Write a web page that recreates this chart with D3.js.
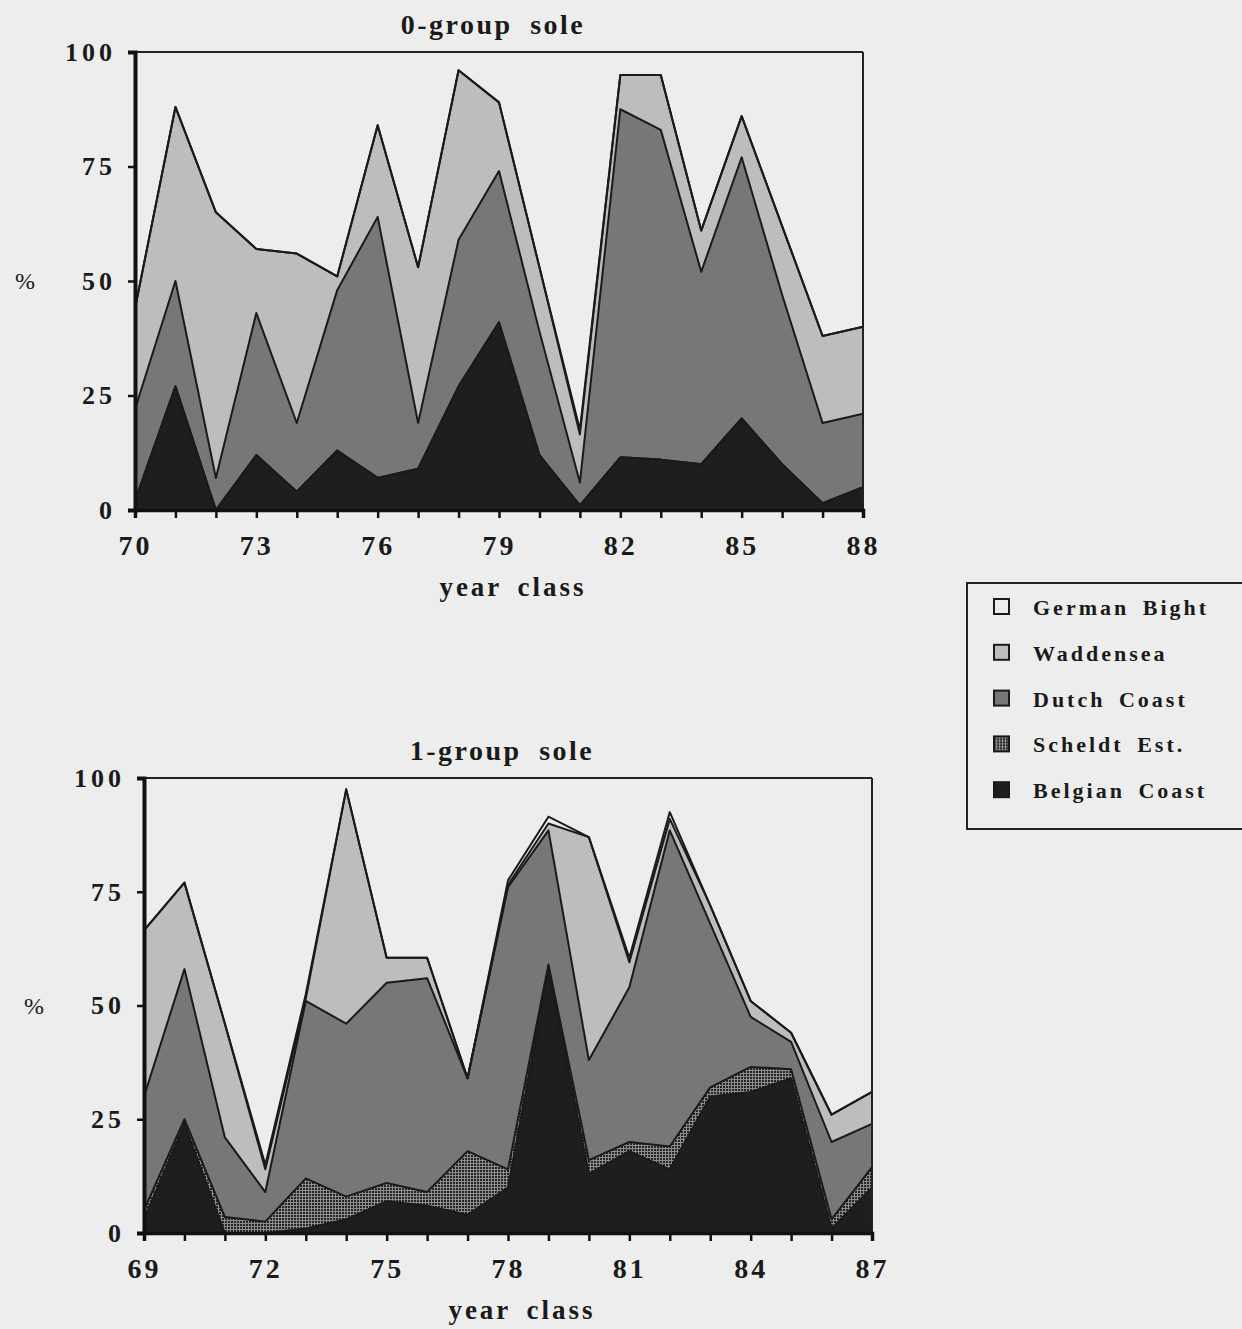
<!DOCTYPE html>
<html>
<head>
<meta charset="utf-8">
<script src="https://cdn.jsdelivr.net/npm/d3@7"></script>
<style>
  body { margin: 0; background: #ededed; }
  svg { display: block; }
  text { font-family: "Liberation Serif", "DejaVu Serif", serif; fill: #1a1a1a; }
</style>
</head>
<body>
<div id="chart"></div>
<script>
// region keys, bottom of the stack first
const keys = ['Belgian Coast', 'Scheldt Est.', 'Dutch Coast', 'Waddensea', 'German Bight'];
const legendOrder = ['German Bight', 'Waddensea', 'Dutch Coast', 'Scheldt Est.', 'Belgian Coast'];

// 0-group sole, % per region
const topYears   = [70, 71, 72, 73, 74, 75, 76, 77, 78, 79, 80, 81, 82, 83, 84, 85, 86, 87, 88];
const topBelgian = [2, 27, 0, 12, 4, 13, 7, 9, 27, 41, 12, 1, 11.5, 11, 10, 20, 10, 1.5, 5];
const topScheldt = [0, 0, 0, 0, 0, 0, 0, 0, 0, 0, 0, 0, 0, 0, 0, 0, 0, 0, 0];
const topDutch   = [20, 23, 7, 31, 15, 35, 57, 10, 32, 33, 27, 5, 76, 72, 42, 57, 37, 17.5, 16];
const topWadden  = [22, 38, 58, 14, 37, 3, 20, 34, 37, 15, 14, 10.5, 7.5, 12, 9, 9, 15, 19, 19];
const topGerman  = [0, 0, 0, 0, 0, 0, 0, 0, 0, 0, 0, 1, 0, 0, 0, 0, 0, 0, 0];
const topTicks   = [70, 73, 76, 79, 82, 85, 88];

// 1-group sole, % per region
const botYears   = [69, 70, 71, 72, 73, 74, 75, 76, 77, 78, 79, 80, 81, 82, 83, 84, 85, 86, 87];
const botBelgian = [3, 24, 0, 0, 1, 3, 7, 6, 4, 10, 58, 13, 18, 14, 30, 31, 34, 1, 10];
const botScheldt = [2, 1, 3.5, 2.5, 11, 5, 4, 3, 14, 4, 1, 3, 2, 5, 2, 5.5, 2, 2, 4.5];
const botDutch   = [25, 33, 17.5, 6.5, 39, 38, 44, 47, 16, 62, 29.5, 22, 34, 69.5, 36, 11, 6, 17, 9.5];
const botWadden  = [36.5, 19, 25, 5, 0.5, 51.5, 5.5, 4.5, 0, 0.5, 1.5, 49, 5.5, 2.5, 4, 3.5, 2, 6, 7];
const botGerman  = [0, 0, 0, 1, 1, 0, 0, 0, 0, 1, 1.5, 0, 1, 1.5, 0, 0, 0, 0, 0];
const botTicks   = [69, 72, 75, 78, 81, 84, 87];

const yTicks = [0, 25, 50, 75, 100];

const svg = d3.select('#chart').append('svg')
    .attr('width', 1242)
    .attr('height', 1329);

// dotted fill for the Scheldt
const defs = svg.append('defs');
const pat = defs.append('pattern')
    .attr('id', 'dots')
    .attr('width', 3).attr('height', 3)
    .attr('patternUnits', 'userSpaceOnUse');
pat.append('rect').attr('width', 3).attr('height', 3).attr('fill', '#8c8c8c');
pat.append('rect').attr('width', 2).attr('height', 2).attr('fill', '#262626');

const fills = {
    'Belgian Coast': '#1e1e1e',
    'Scheldt Est.': 'url(#dots)',
    'Dutch Coast': '#777777',
    'Waddensea': '#bdbdbd',
    'German Bight': '#ededed'
};

function rows(years, b, s, d, w, g) {
    return years.map((yr, i) => ({
        year: yr,
        'Belgian Coast': b[i],
        'Scheldt Est.': s[i],
        'Dutch Coast': d[i],
        'Waddensea': w[i],
        'German Bight': g[i]
    }));
}

function drawChart(opt) {
    const x = d3.scaleLinear().domain(d3.extent(opt.data, d => d.year)).range([opt.left, opt.right]);
    const y = d3.scaleLinear().domain([0, 100]).range([opt.bottom, opt.top]);

    const series = d3.stack().keys(keys)(opt.data);

    const area = d3.area()
        .x(d => x(d.data.year))
        .y0(d => y(d[0]))
        .y1(d => y(d[1]));

    const edge = d3.line()
        .x(d => x(d.data.year))
        .y(d => y(d[1]));

    const g = svg.append('g');

    g.selectAll('.area')
        .data(series)
        .enter().append('path')
        .attr('class', 'area')
        .attr('fill', d => fills[d.key])
        .attr('d', area);

    g.selectAll('.edge')
        .data(series)
        .enter().append('path')
        .attr('class', 'edge')
        .attr('fill', 'none')
        .attr('stroke', '#1a1a1a')
        .attr('stroke-width', 2)
        .attr('stroke-linejoin', 'round')
        .attr('d', edge);

    // frame: thin top and right, heavy left and bottom
    g.append('line')
        .attr('x1', opt.left).attr('x2', opt.right)
        .attr('y1', opt.top).attr('y2', opt.top)
        .attr('stroke', '#222').attr('stroke-width', 2);
    g.append('line')
        .attr('x1', opt.right).attr('x2', opt.right)
        .attr('y1', opt.top).attr('y2', opt.bottom)
        .attr('stroke', '#222').attr('stroke-width', 2);

    const xAxis = d3.axisBottom(x)
        .tickValues(opt.data.map(d => d.year))
        .tickSize(8)
        .tickPadding(17)
        .tickFormat(v => opt.ticks.includes(v) ? v : '');

    const xg = g.append('g')
        .attr('transform', 'translate(0,' + opt.bottom + ')')
        .call(xAxis);
    xg.select('.domain').attr('stroke', '#111').attr('stroke-width', 3.5);
    xg.selectAll('.tick line').attr('stroke', '#111').attr('stroke-width', 2.5);
    xg.selectAll('.tick text')
        .attr('fill', '#1a1a1a')
        .style('font-family', '"Liberation Serif", serif')
        .style('font-size', '28px')
        .style('font-weight', 'bold')
        .style('letter-spacing', '3px');

    const yAxis = d3.axisLeft(y)
        .tickValues(yTicks)
        .tickSize(7)
        .tickPadding(12);

    const yg = g.append('g')
        .attr('transform', 'translate(' + opt.left + ',0)')
        .call(yAxis);
    yg.select('.domain').attr('stroke', '#111').attr('stroke-width', 4);
    yg.selectAll('.tick line').attr('stroke', '#111').attr('stroke-width', 2.5);
    yg.selectAll('.tick text')
        .attr('fill', '#1a1a1a')
        .style('font-family', '"Liberation Serif", serif')
        .style('font-size', '26px')
        .style('font-weight', 'bold')
        .style('letter-spacing', '4px');

    g.append('text')
        .attr('x', (opt.left + opt.right) / 2 - 6)
        .attr('y', opt.top - 18)
        .attr('text-anchor', 'middle')
        .style('font-size', '28px')
        .style('font-weight', 'bold')
        .style('letter-spacing', '2.5px')
        .style('word-spacing', '8px')
        .text(opt.title);

    g.append('text')
        .attr('x', (opt.left + opt.right) / 2 + 14)
        .attr('y', opt.bottom + 86)
        .attr('text-anchor', 'middle')
        .style('font-size', '27px')
        .style('font-weight', 'bold')
        .style('letter-spacing', '3px')
        .style('word-spacing', '6px')
        .text('year class');

    g.append('text')
        .attr('x', opt.left - 110)
        .attr('y', y(50) + 8)
        .attr('text-anchor', 'middle')
        .style('font-size', '24px')
        .text('%');
}

drawChart({
    data: rows(topYears, topBelgian, topScheldt, topDutch, topWadden, topGerman),
    ticks: topTicks, title: '0-group sole',
    left: 135, right: 863, top: 52, bottom: 510
});

drawChart({
    data: rows(botYears, botBelgian, botScheldt, botDutch, botWadden, botGerman),
    ticks: botTicks, title: '1-group sole',
    left: 144, right: 872, top: 778, bottom: 1233
});

// legend
const legend = svg.append('g').attr('transform', 'translate(967,583)');
legend.append('rect')
    .attr('width', 290).attr('height', 246)
    .attr('fill', 'none')
    .attr('stroke', '#222').attr('stroke-width', 2);

const item = legend.selectAll('.item')
    .data(legendOrder)
    .enter().append('g')
    .attr('class', 'item')
    .attr('transform', (d, i) => 'translate(0,' + (24 + i * 45.8) + ')');

item.append('rect')
    .attr('x', 27).attr('y', -8)
    .attr('width', 15).attr('height', 15)
    .attr('fill', d => fills[d])
    .attr('stroke', '#1a1a1a').attr('stroke-width', 2);

item.append('text')
    .attr('x', 66).attr('y', 8)
    .style('font-size', '22px')
    .style('font-weight', 'bold')
    .style('letter-spacing', '3px')
    .style('word-spacing', '5px')
    .attr('fill', '#333')
    .text(d => d);
</script>
</body>
</html>
